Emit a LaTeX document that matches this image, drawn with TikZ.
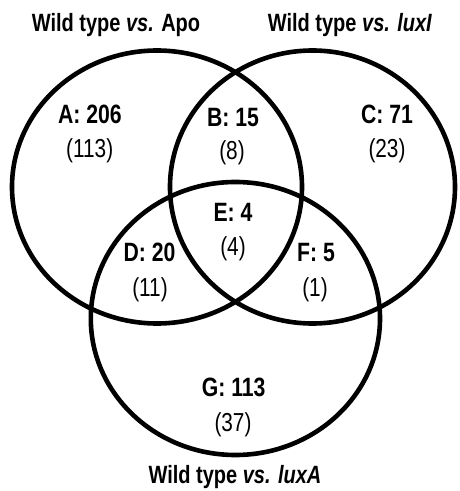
\documentclass[tikz,border=0pt]{standalone}
\usepackage{fontspec}
\newfontfamily\nar{Liberation Sans}[FakeStretch=0.8]
\begin{document}
\begin{tikzpicture}[x=1pt,y=1pt,
  ring/.style={line width=4.6pt, black},
  ttl/.style={anchor=base, inner sep=0pt, font=\nar\fontsize{25}{29}\selectfont\bfseries},
  cnt/.style={anchor=base, inner sep=0pt, font=\nar\fontsize{26.5}{30}\selectfont\bfseries},
  sub/.style={anchor=base, inner sep=0pt, font=\nar\fontsize{26}{30}\selectfont}]
\useasboundingbox (0,0) rectangle (460,491);
% circles
\draw[ring] (157,304) ellipse [x radius=145, y radius=136.5];
\draw[ring] (312.5,304) ellipse [x radius=142.5, y radius=136.5];
\draw[ring] (235.4,172.5) ellipse [x radius=144.6, y radius=136.5];
% titles
\node[ttl] (t1) at (116,459) {Wild type \emph{vs.} Apo};
\node[ttl] (t2) at (350,459) {Wild type \emph{vs. luxI}};
\node[ttl] (t3) at (235,8) {Wild type \emph{vs. luxA}};
% counts
\node[cnt] (a) at (90,367) {A: 206};
\node[sub] (a2) at (89.7,333) {(113)};
\node[cnt] (b) at (233,364) {B: 15};
\node[sub] (b2) at (232,331) {(8)};
\node[cnt] (c) at (387,367) {C: 71};
\node[sub] (c2) at (387,333) {(23)};
\node[cnt] (e) at (233,269.5) {E: 4};
\node[sub] (e2) at (233,235.5) {(4)};
\node[cnt] (d) at (149.5,229.5) {D: 20};
\node[sub] (d2) at (150,194) {(11)};
\node[cnt] (f) at (316,229.5) {F: 5};
\node[sub] (f2) at (315,194) {(1)};
\node[cnt] (g) at (233.7,94.5) {G: 113};
\node[sub] (g2) at (233,59.5) {(37)};
\end{tikzpicture}
\end{document}
